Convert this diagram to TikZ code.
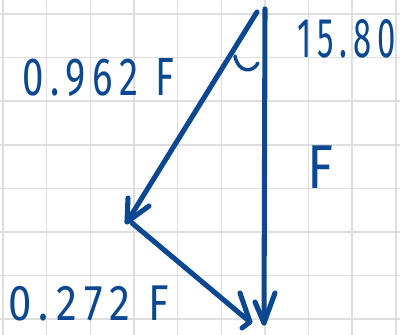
\documentclass[tikz,border=0pt]{standalone}
\usepackage{fontspec}
\newfontfamily\hand[LetterSpace=18]{Fira Sans}
\definecolor{pen}{RGB}{12,72,145}
\definecolor{gridc}{RGB}{222,222,222}
\tikzset{
  vec/.style={draw=pen,line width=3.8pt,line cap=round,line join=round},
  lbl/.style={inner sep=0pt,anchor=base west,text=pen},
}
\begin{document}
\begin{tikzpicture}[x=0.75pt,y=-0.75pt]
\useasboundingbox (0,0) rectangle (400,335);
\fill[white] (0,0) rectangle (400,335);
% grid
\foreach \i in {0,...,9} \draw[gridc,line width=1.1pt] ({3+43.65*\i},0) -- ({3+43.65*\i},335);
\foreach \j in {0,...,7} \draw[gridc,line width=1.1pt] (0,{14+43.6*\j}) -- (400,{14+43.6*\j});
% points
\coordinate (Atop) at (265,9);
\coordinate (Aleft) at (257,12);
\coordinate (B) at (127,222);
\coordinate (B2) at (132,223);
\coordinate (C) at (264,323);
\coordinate (Cl) at (250,322);
% vectors
\draw[vec] (Atop) -- (C);
\draw[vec] (Aleft) -- (B);
\draw[vec] (B2) -- (Cl);
% arrowheads
\coordinate (b1) at (128,198);
\coordinate (b2) at (149,206);
\draw[vec] (b1) -- (B) -- (b2);
\coordinate (c1) at (255,302);
\coordinate (c2) at (275,293);
\draw[vec] (c1) -- (C) -- (c2);
\coordinate (d1) at (240,293);
\coordinate (d2) at (242,328);
\draw[vec] (d1) -- (Cl) -- (d2);
% angle mark
\coordinate (e1) at (235,56);
\coordinate (e2) at (258,63);
\draw[draw=pen,line width=2.6pt,line cap=round] (e1) .. controls (238,73) and (253,73) .. (e2);
% labels
\node[lbl] (l1) at (22,96) {\resizebox{114pt}{27.75pt}{\hand 0.962 F}};
\node[lbl] (l2) at (297,58) {\resizebox{74pt}{28.5pt}{\hand 15.80}};
\node[lbl] (l3) at (307,188) {\resizebox{19.5pt}{32pt}{\hand F}};
\node[lbl] (l4) at (8,320) {\resizebox{121pt}{26pt}{\hand 0.272 F}};
\end{tikzpicture}
\end{document}
